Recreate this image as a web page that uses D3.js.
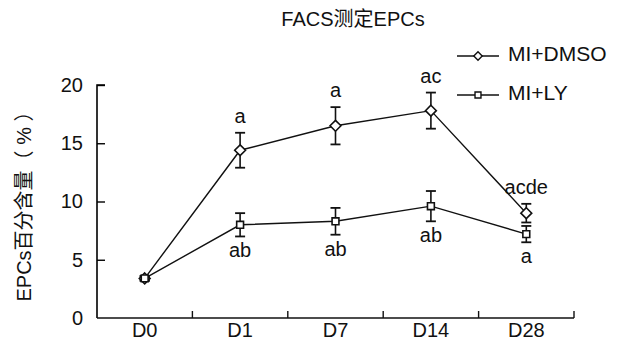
<!DOCTYPE html>
<html>
<head>
<meta charset="utf-8">
<script src="https://cdn.jsdelivr.net/npm/d3@7"></script>
<style>
  body { margin: 0; background: #fff; }
  text { font-family: "Liberation Sans", Arial, "Noto Sans CJK SC", sans-serif; fill: #111; }
</style>
</head>
<body>
<svg id="chart"></svg>
<script>
// ── DATA ────────────────────────────────────────────
const days     = ['D0', 'D1', 'D7', 'D14', 'D28'];
const dmsoMean = [3.4, 14.4, 16.5, 17.8, 9.0];
const dmsoErr  = [0.2, 1.5, 1.6, 1.55, 0.8];
const dmsoSig  = ['', 'a', 'a', 'ac', 'acde'];
const lyMean   = [3.4, 8.0, 8.3, 9.6, 7.2];
const lyErr    = [0.2, 1.0, 1.15, 1.3, 0.7];
const lySig    = ['', 'ab', 'ab', 'ab', 'a'];
const yTicks   = [0, 5, 10, 15, 20];

const W = 622, H = 346;
const margin = { top: 85, right: 48, bottom: 28, left: 97 };

const svg = d3.select('#chart').attr('width', W).attr('height', H);

const x = d3.scaleBand().domain(days).range([margin.left, W - margin.right]);
const y = d3.scaleLinear().domain([0, 20]).range([H - margin.bottom, margin.top]);

const series = [
  { name: 'MI+DMSO', mean: dmsoMean, err: dmsoErr, sig: dmsoSig, shape: 'diamond', above: true },
  { name: 'MI+LY',   mean: lyMean,   err: lyErr,   sig: lySig,   shape: 'square',  above: false }
];

// ── Title ──
svg.append('text')
  .attr('x', 353).attr('y', 26)
  .attr('text-anchor', 'middle')
  .attr('font-size', '20px')
  .text('FACS测定EPCs');

// ── Axes ──
const yAxis = d3.axisLeft(y).tickValues(yTicks).tickSize(-8).tickPadding(14);
const gy = svg.append('g').attr('transform', `translate(${margin.left},0)`).call(yAxis);
gy.select('.domain').attr('d', `M${8},${y(20)}H0V${y(0)}`).attr('stroke-width', 1.6);
gy.selectAll('.tick line').attr('stroke-width', 1.4);
gy.selectAll('.tick').filter(d => d === 0).select('line').remove();
gy.selectAll('.tick text').attr('font-size', '20px')
  .attr('font-family', '"Liberation Sans", Arial, sans-serif').attr('fill', '#111');

// x axis: ticks on band boundaries, pointing up
const gx = svg.append('g').attr('transform', `translate(0,${y(0)})`);
gx.append('line')
  .attr('x1', margin.left).attr('x2', W - margin.right)
  .attr('stroke', '#111').attr('stroke-width', 1.6);
gx.selectAll('.bnd').data(days).join('line')
  .attr('class', 'bnd')
  .attr('x1', d => x(d) + x.bandwidth()).attr('x2', d => x(d) + x.bandwidth())
  .attr('y1', 0).attr('y2', -7)
  .attr('stroke', '#111').attr('stroke-width', 1.4);
gx.selectAll('.lbl').data(days).join('text')
  .attr('class', 'lbl')
  .attr('x', d => x(d) + x.bandwidth() / 2)
  .attr('y', 19)
  .attr('text-anchor', 'middle')
  .attr('font-size', '20px')
  .text(d => d);

// y axis title
svg.append('text')
  .attr('transform', `translate(31,${(y(0) + y(20)) / 2}) rotate(-90)`)
  .attr('text-anchor', 'middle')
  .attr('font-size', '20px')
  .text('EPCs百分含量（ % ）');

// ── Marks ──
const cx = d => x(d) + x.bandwidth() / 2;
const symDiamond = d3.symbol().type(d3.symbolDiamond2).size(75);
const symSquare  = d3.symbol().type(d3.symbolSquare2).size(60);

series.forEach(s => {
  const pts = days.map((d, i) => ({ d, v: s.mean[i], e: s.err[i], sig: s.sig[i] }));
  const g = svg.append('g');

  g.append('path')
    .datum(pts)
    .attr('fill', 'none').attr('stroke', '#111').attr('stroke-width', 1.4)
    .attr('d', d3.line().x(p => cx(p.d)).y(p => y(p.v)));

  // error bars
  const eb = g.selectAll('.eb').data(pts).join('g').attr('class', 'eb');
  eb.append('line')
    .attr('x1', p => cx(p.d)).attr('x2', p => cx(p.d))
    .attr('y1', p => y(p.v + p.e)).attr('y2', p => y(p.v - p.e))
    .attr('stroke', '#111').attr('stroke-width', 1.6);
  [1, -1].forEach(sg => {
    eb.append('line')
      .attr('x1', p => cx(p.d) - 5).attr('x2', p => cx(p.d) + 5)
      .attr('y1', p => y(p.v + sg * p.e)).attr('y2', p => y(p.v + sg * p.e))
      .attr('stroke', '#111').attr('stroke-width', 1.8);
  });

  g.selectAll('.pt').data(pts).join('path')
    .attr('class', 'pt')
    .attr('transform', p => `translate(${cx(p.d)},${y(p.v)})`)
    .attr('d', s.shape === 'diamond' ? symDiamond() : symSquare())
    .attr('fill', '#fff').attr('stroke', '#111').attr('stroke-width', 1.6);

  g.selectAll('.sig').data(pts).join('text')
    .attr('class', 'sig')
    .attr('x', p => cx(p.d))
    .attr('y', p => s.above ? y(p.v + p.e) - 10 : y(p.v - p.e) + 21)
    .attr('text-anchor', 'middle')
    .attr('font-size', '20px')
    .text(p => p.sig);
});

// ── Legend ──
const legend = svg.append('g');
series.forEach((s, i) => {
  const ly = 56 + i * 39;
  const lg = legend.append('g').attr('transform', `translate(457,${ly})`);
  lg.append('line').attr('x1', 0).attr('x2', 42).attr('stroke', '#111').attr('stroke-width', 1.4);
  lg.append('path')
    .attr('transform', 'translate(21,0)')
    .attr('d', s.shape === 'diamond' ? d3.symbol().type(d3.symbolDiamond2).size(45)() : d3.symbol().type(d3.symbolSquare2).size(45)())
    .attr('fill', '#fff').attr('stroke', '#111').attr('stroke-width', 1.4);
  lg.append('text')
    .attr('x', 51).attr('y', -1).attr('dy', '0.3em')
    .attr('font-size', '21px')
    .text(s.name);
});
</script>
</body>
</html>
